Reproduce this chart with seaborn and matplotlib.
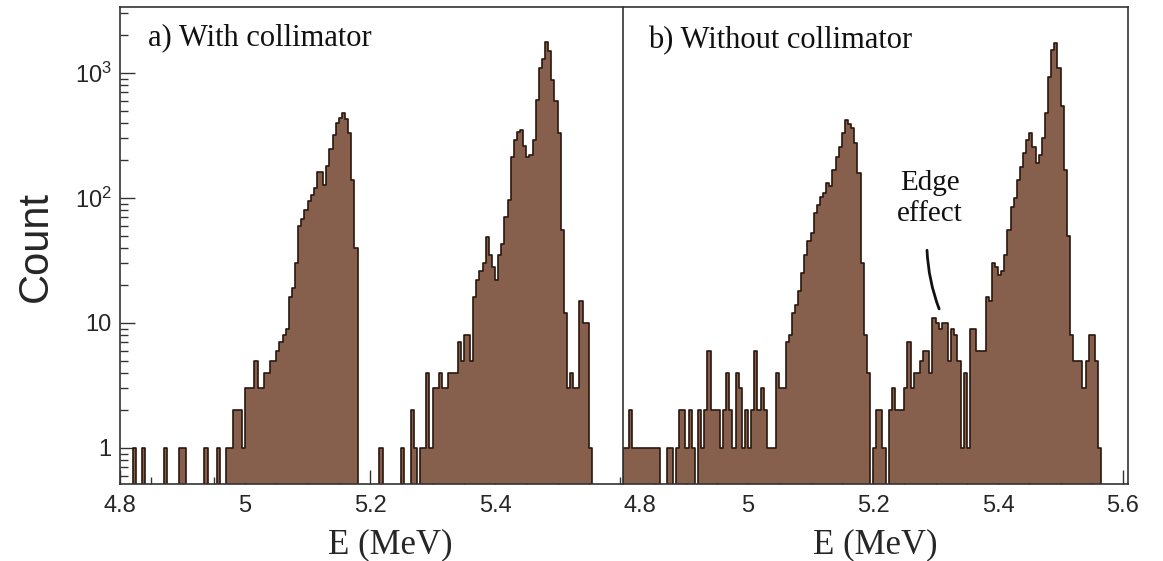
import numpy as np
import pandas as pd
import matplotlib
matplotlib.use("Agg")
import matplotlib.pyplot as plt
import seaborn as sns
from matplotlib.ticker import MultipleLocator, LogLocator, NullFormatter

# ---------------- data ----------------
E_MIN = 4.8
BIN_WIDTH = 0.005
N_BINS = 160

# a) With collimator: counts per 5 keV bin starting at 4.800 MeV
counts_with = [
    0, 0, 0, 0, 1, 0, 0, 1, 0, 0,
    0, 0, 0, 0, 1, 0, 0, 0, 0, 1,
    1, 0, 0, 0, 0, 0, 0, 1, 0, 0,
    0, 1, 0, 0, 1, 1, 2, 2, 2, 1,
    3, 3, 3, 5, 3, 3, 4, 4, 5, 5,
    6, 7, 8, 9, 16, 19, 30, 60, 68, 80,
    95, 105, 120, 160, 162, 127, 180, 245, 320, 400,
    440, 480, 430, 330, 140, 40, 0, 0, 0, 0,
    0, 0, 0, 1, 0, 0, 0, 0, 0, 0,
    1, 0, 0, 2, 1, 0, 1, 1, 4, 1,
    3, 3, 4, 3, 3, 4, 4, 4, 7, 5,
    8, 8, 5, 16, 22, 26, 30, 49, 35, 28,
    22, 35, 43, 70, 97, 214, 290, 340, 350, 260,
    214, 220, 290, 610, 1100, 1300, 1780, 1500, 880, 600,
    330, 55, 12, 3, 4, 3, 3, 15, 10, 10,
    1, 0, 0, 0, 0, 0, 0, 0, 0, 0,
]

# b) Without collimator
counts_without = [
    1, 1, 2, 1, 1, 1, 1, 1, 1, 1,
    1, 1, 0, 0, 1, 1, 0, 1, 2, 2,
    1, 2, 1, 0, 2, 1, 2, 6, 2, 2,
    2, 1, 2, 4, 2, 1, 4, 3, 1, 2,
    1, 2, 6, 2, 3, 2, 1, 1, 1, 4,
    3, 3, 7, 8, 12, 14, 18, 25, 35, 45,
    52, 76, 88, 102, 110, 132, 125, 167, 214, 257,
    330, 420, 390, 360, 276, 158, 30, 8, 4, 0,
    1, 2, 2, 1, 0, 2, 3, 2, 2, 2,
    3, 7, 3, 4, 4, 5, 6, 6, 4, 11,
    10, 9, 10, 10, 5, 9, 8, 5, 1, 4,
    1, 9, 9, 6, 6, 6, 16, 15, 30, 28,
    24, 26, 35, 55, 85, 100, 140, 178, 228, 290,
    330, 257, 190, 220, 300, 480, 930, 1520, 1740, 1100,
    540, 167, 50, 8, 5, 5, 5, 3, 5, 8,
    8, 5, 1, 0, 0, 0, 0, 0, 0, 0,
]

panel_titles = ["a) With collimator", "b) Without collimator"]
x_ticks_left = [4.8, 5.0, 5.2, 5.4]
x_ticklabels_left = ["4.8", "5", "5.2", "5.4"]
x_ticks_right = [4.8, 5.0, 5.2, 5.4, 5.6]
x_ticklabels_right = ["4.8", "5", "5.2", "5.4", "5.6"]
y_ticks = [1, 10, 100, 1000]
y_ticklabels = ["1", "10", r"$\mathregular{10^2}$", r"$\mathregular{10^3}$"]

edges = [E_MIN + BIN_WIDTH * i for i in range(N_BINS + 1)]
centers = [e + BIN_WIDTH / 2 for e in edges[:-1]]
df_with = pd.DataFrame({"E": centers, "count": counts_with})
df_without = pd.DataFrame({"E": centers, "count": counts_without})

# ---------------- style ----------------
sns.set_theme(style="ticks")
plt.rcParams["font.family"] = ["Liberation Sans", "DejaVu Sans"]
plt.rcParams["mathtext.fontset"] = "custom"
plt.rcParams["mathtext.rm"] = "Liberation Sans"
plt.rcParams["mathtext.it"] = "Liberation Sans:italic"

FILL = "#865f4d"
EDGE = "#2a160d"
SPINE = "#333333"
SERIF = ["Liberation Serif", "DejaVu Serif"]

W, H = 1163, 561
fig = plt.figure(figsize=(W / 100, H / 100), dpi=100)
ax1 = fig.add_axes([120 / W, (H - 484) / H, (622 - 120) / W, (484 - 7) / H])
ax2 = fig.add_axes([623 / W, (H - 484) / H, (1128 - 623) / W, (484 - 7) / H])

for ax, df in ((ax1, df_with), (ax2, df_without)):
    sns.histplot(data=df, x="E", weights="count", bins=edges, element="step",
                 fill=True, color=FILL, edgecolor=EDGE, linewidth=1.2, alpha=1.0,
                 ax=ax)
    ax.set_yscale("log")
    ax.set_ylim(0.515, 3370)
    ax.set_ylabel("")
    ax.xaxis.set_minor_locator(MultipleLocator(0.05))
    ax.tick_params(axis="x", which="major", direction="in", length=10, width=1.0,
                   color=SPINE, labelsize=17, pad=8, top=False, bottom=True)
    ax.tick_params(axis="x", which="minor", direction="in", length=5, width=1.0,
                   color=SPINE, top=False, bottom=True)
    for s in ax.spines.values():
        s.set_linewidth(1.2)
        s.set_color(SPINE)

ax1.set_xlim(4.8, 5.6032)
ax2.set_xlim(4.8, 5.608)

ax1.set_xticks(x_ticks_left)
ax1.set_xticklabels(x_ticklabels_left)
ax2.set_xticks(x_ticks_right)
ax2.set_xticklabels(x_ticklabels_right)
ax2.get_xticklabels()[0].set_horizontalalignment("left")

ax1.set_yticks(y_ticks)
ax1.set_yticklabels(y_ticklabels)
ax1.yaxis.set_minor_locator(LogLocator(base=10, subs=np.arange(2, 10)))
ax1.yaxis.set_minor_formatter(NullFormatter())
ax1.tick_params(axis="y", which="major", direction="in", length=11, width=1.0,
                color=SPINE, labelsize=17, pad=6, left=True, right=False)
ax1.tick_params(axis="y", which="minor", direction="in", length=6, width=1.0,
                color=SPINE, left=True, right=False)
ax1.spines["right"].set_visible(False)

ax2.yaxis.set_minor_locator(LogLocator(base=10, subs=np.arange(2, 10)))
ax2.tick_params(axis="y", which="both", left=False, right=False,
                labelleft=False, labelright=False)

# axis labels
ax1.set_xlabel("E (MeV)", fontsize=25, family=SERIF)
ax2.set_xlabel("E (MeV)", fontsize=25, family=SERIF)
ax1.xaxis.set_label_coords(0.538, -0.092)
ax2.xaxis.set_label_coords(0.5, -0.092)
fig.text(36 / W, 1 - 246 / H, "Count", rotation=90, ha="center", va="center",
         fontsize=30, family=["Liberation Sans", "DejaVu Sans"])

# panel titles
ax1.text(0.056, 0.935, panel_titles[0], transform=ax1.transAxes, ha="left",
         va="center", fontsize=22, family=SERIF, color="#111111")
ax2.text(0.05, 0.93, panel_titles[1], transform=ax2.transAxes, ha="left",
         va="center", fontsize=22, family=SERIF, color="#111111")

# edge-effect annotation
ax2.text(0.608, 0.598, "Edge\neffect", transform=ax2.transAxes, ha="center",
         va="center", fontsize=21, family=SERIF, linespacing=1.25, color="#111111")
ax2.annotate("", xy=(0.626, 0.367), xycoords="axes fraction",
             xytext=(0.602, 0.49), textcoords="axes fraction",
             arrowprops=dict(arrowstyle="-", lw=2.0, color="#111111",
                             shrinkA=0, shrinkB=0,
                             connectionstyle="arc3,rad=0.08"))

fig.savefig("out.png", dpi=100, facecolor="white")
